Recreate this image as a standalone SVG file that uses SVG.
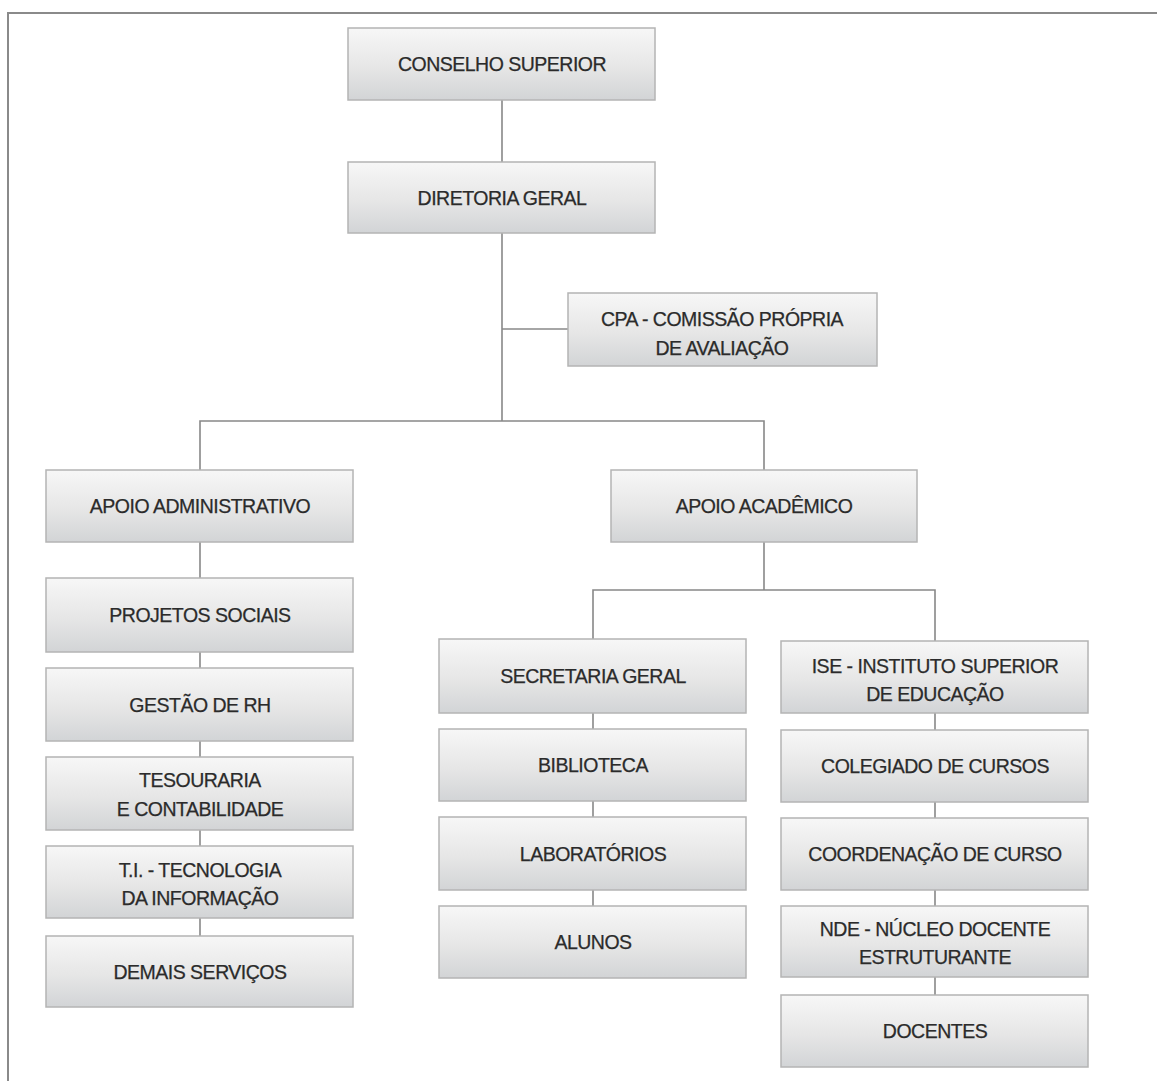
<svg xmlns="http://www.w3.org/2000/svg" width="1157" height="1081" viewBox="0 0 1157 1081">
<defs>
<linearGradient id="g" x1="0" y1="0" x2="0" y2="1">
<stop offset="0" stop-color="#f7f7f7"/>
<stop offset="0.55" stop-color="#e6e6e6"/>
<stop offset="1" stop-color="#d2d4d6"/>
</linearGradient>
<style>
.box{fill:url(#g);stroke:#b4b4b4;stroke-width:1.5}
.t{font-family:"Liberation Sans",Arial,sans-serif;font-size:19.5px;fill:#2b2b2b;stroke:#2b2b2b;stroke-width:0.25;text-anchor:middle;letter-spacing:-0.5px}
.c{fill:none;stroke:#888;stroke-width:1.6}
.frame{fill:none;stroke:#8a8a8a;stroke-width:2}
</style>
</defs>
<rect width="1157" height="1081" fill="#fff"/>
<path class="frame" d="M8,1081 V13 H1157"/>
<g id="connectors">
<path class="c" d="M502,100 V162"/>
<path class="c" d="M502,233 V421"/>
<path class="c" d="M502,329 H568"/>
<path class="c" d="M200,470 V421 H764 V470"/>
<path class="c" d="M200,542 V578"/>
<path class="c" d="M200,652 V668"/>
<path class="c" d="M200,741 V757"/>
<path class="c" d="M200,830 V846"/>
<path class="c" d="M200,918 V936"/>
<path class="c" d="M764,542 V590"/>
<path class="c" d="M593,639 V590 H935 V641"/>
<path class="c" d="M593,713 V729"/>
<path class="c" d="M593,801 V817"/>
<path class="c" d="M593,890 V906"/>
<path class="c" d="M935,713 V730"/>
<path class="c" d="M935,802 V818"/>
<path class="c" d="M935,890 V906"/>
<path class="c" d="M935,977 V995"/>
</g>
<g id="conselho"><rect class="box" x="348" y="28" width="307" height="72"/><text class="t" x="502" y="71">CONSELHO SUPERIOR</text></g>
<g id="diretoria"><rect class="box" x="348" y="162" width="307" height="71"/><text class="t" x="502" y="205">DIRETORIA GERAL</text></g>
<g id="cpa"><rect class="box" x="568" y="293" width="309" height="73"/><text class="t" x="722" y="326">CPA - COMISSÃO PRÓPRIA</text><text class="t" x="722" y="355">DE AVALIAÇÃO</text></g>
<g id="apoio-adm"><rect class="box" x="46" y="470" width="307" height="72"/><text class="t" x="200" y="513">APOIO ADMINISTRATIVO</text></g>
<g id="apoio-acad"><rect class="box" x="611" y="470" width="306" height="72"/><text class="t" x="764" y="513">APOIO ACADÊMICO</text></g>
<g id="projetos"><rect class="box" x="46" y="578" width="307" height="74"/><text class="t" x="200" y="622">PROJETOS SOCIAIS</text></g>
<g id="gestao-rh"><rect class="box" x="46" y="668" width="307" height="73"/><text class="t" x="200" y="712">GESTÃO DE RH</text></g>
<g id="tesouraria"><rect class="box" x="46" y="757" width="307" height="73"/><text class="t" x="200" y="787">TESOURARIA</text><text class="t" x="200" y="816">E CONTABILIDADE</text></g>
<g id="ti"><rect class="box" x="46" y="846" width="307" height="72"/><text class="t" x="200" y="877">T.I. - TECNOLOGIA</text><text class="t" x="200" y="905">DA INFORMAÇÃO</text></g>
<g id="demais"><rect class="box" x="46" y="936" width="307" height="71"/><text class="t" x="200" y="979">DEMAIS SERVIÇOS</text></g>
<g id="secretaria"><rect class="box" x="439" y="639" width="307" height="74"/><text class="t" x="593" y="683">SECRETARIA GERAL</text></g>
<g id="biblioteca"><rect class="box" x="439" y="729" width="307" height="72"/><text class="t" x="593" y="772">BIBLIOTECA</text></g>
<g id="laboratorios"><rect class="box" x="439" y="817" width="307" height="73"/><text class="t" x="593" y="861">LABORATÓRIOS</text></g>
<g id="alunos"><rect class="box" x="439" y="906" width="307" height="72"/><text class="t" x="593" y="949">ALUNOS</text></g>
<g id="ise"><rect class="box" x="781" y="641" width="307" height="72"/><text class="t" x="935" y="673">ISE - INSTITUTO SUPERIOR</text><text class="t" x="935" y="701">DE EDUCAÇÃO</text></g>
<g id="colegiado"><rect class="box" x="781" y="730" width="307" height="72"/><text class="t" x="935" y="773">COLEGIADO DE CURSOS</text></g>
<g id="coordenacao"><rect class="box" x="781" y="818" width="307" height="72"/><text class="t" x="935" y="861">COORDENAÇÃO DE CURSO</text></g>
<g id="nde"><rect class="box" x="781" y="906" width="307" height="71"/><text class="t" x="935" y="936">NDE - NÚCLEO DOCENTE</text><text class="t" x="935" y="964">ESTRUTURANTE</text></g>
<g id="docentes"><rect class="box" x="781" y="995" width="307" height="72"/><text class="t" x="935" y="1038">DOCENTES</text></g>
</svg>
